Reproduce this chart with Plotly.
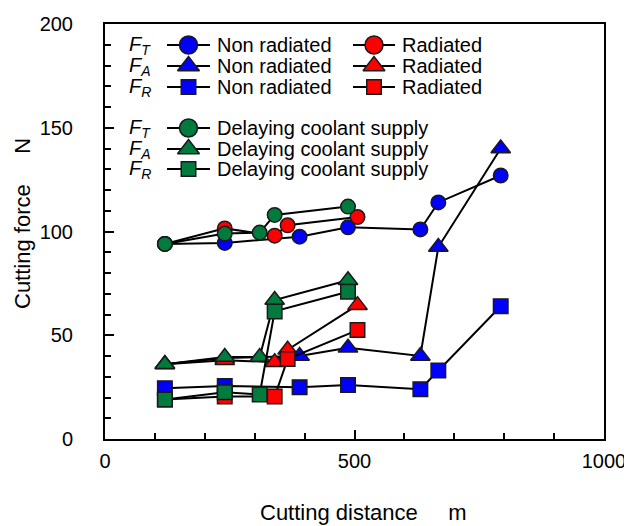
import plotly.graph_objects as go

# ---------------- data ----------------
dist_non = [120, 240, 390, 487, 632, 668, 793]
ft_non = [94, 94.5, 97.5, 102, 101, 114, 127]
fa_non = [36, 39, 40, 44, 40, 92.5, 140]
fr_non = [24.5, 25.5, 25, 26, 24, 33, 64]

dist_rad = [120, 240, 340, 366, 506]
ft_rad = [94, 101.5, 98, 103, 107]
fa_rad = [36, 38, 37, 43, 64.5]
fr_rad = [19, 20.5, 20.5, 38.5, 52.5]

dist_del = [120, 240, 310, 340, 487]
ft_del = [94, 99, 99.5, 108, 112]
fa_del = [36, 39.5, 39.5, 67, 76.5]
fr_del = [19, 22.5, 21.5, 61.5, 71]

x_ticks = [0, 500, 1000]
y_ticks = [0, 50, 100, 150, 200]

x_title = "Cutting distance\u00a0\u00a0\u00a0\u00a0 m"
y_title = "Cutting force\u00a0\u00a0\u00a0\u00a0 N"

legend_labels = [
    ("T", "Non radiated", "Radiated"),
    ("A", "Non radiated", "Radiated"),
    ("R", "Non radiated", "Radiated"),
    ("T", "Delaying coolant supply", None),
    ("A", "Delaying coolant supply", None),
    ("R", "Delaying coolant supply", None),
]

# ---------------- styles ----------------
BLUE = "#0000FF"
RED = "#FF0000"
GREEN = "#007A3D"
EDGE = "#1a1a1a"
FONT = "Liberation Sans, Arial, sans-serif"
SYM = {"T": "circle", "A": "triangle-up", "R": "square"}
DSIZE = {"T": 14.5, "A": 17, "R": 14.5}
LSIZE = {"T": 18, "A": 19, "R": 14.5}

# the page body adds an 8px offset; size the figure so the plot lands where the reference has it
OFF = 8
W, H = 632 - OFF, 526 - OFF
ML, MR, MT, MB = 105 - OFF, 28, 24 - OFF, 87
PW, PH = W - ML - MR, H - MT - MB

fig = go.Figure()

series = [
    (dist_non, ft_non, "T", BLUE), (dist_non, fa_non, "A", BLUE), (dist_non, fr_non, "R", BLUE),
    (dist_rad, ft_rad, "T", RED), (dist_rad, fa_rad, "A", RED), (dist_rad, fr_rad, "R", RED),
    (dist_del, ft_del, "T", GREEN), (dist_del, fa_del, "A", GREEN), (dist_del, fr_del, "R", GREEN),
]
for xs, ys, k, col in series:
    fig.add_trace(go.Scatter(
        x=xs, y=ys, mode="lines+markers",
        line=dict(color="black", width=2),
        marker=dict(symbol=SYM[k], size=DSIZE[k], color=col, opacity=1,
                    line=dict(color=EDGE, width=1.5)),
        showlegend=False, cliponaxis=False, hoverinfo="skip",
    ))

# ---------------- custom legend (overlay pixel axes) ----------------
row_y = [21, 42, 63, 104, 125, 145]
col_line = [(62, 105), (248, 290)]
col_text = [110, 295]
flabel_x = 22
annotations = []
for i, (sub, t1, t2) in enumerate(legend_labels):
    ry = row_y[i]
    color1 = BLUE if i < 3 else GREEN
    entries = [(0, color1, t1)]
    if t2:
        entries.append((1, RED, t2))
    for c, colr, txt in entries:
        x0, x1 = col_line[c]
        fig.add_trace(go.Scatter(
            x=[x0, (x0 + x1) / 2, x1], y=[ry, ry, ry], mode="lines+markers",
            line=dict(color="black", width=2),
            marker=dict(symbol=SYM[sub], size=[0, LSIZE[sub], 0], color=colr, opacity=1,
                        line=dict(color=EDGE, width=[0, 1.5, 0])),
            xaxis="x2", yaxis="y2", showlegend=False, hoverinfo="skip", cliponaxis=False,
        ))
        annotations.append(dict(x=col_text[c], y=ry, xref="x2", yref="y2", text=txt,
                                showarrow=False, xanchor="left", yanchor="middle",
                                font=dict(size=20, color="black", family=FONT)))
    annotations.append(dict(x=flabel_x, y=ry, xref="x2", yref="y2",
                            text="<i>F</i><sub><i>%s</i></sub>" % sub,
                            showarrow=False, xanchor="left", yanchor="middle",
                            font=dict(size=20, color="black", family=FONT)))

# axis titles (paper coordinates; screen pixel -> paper fraction)
def px_to_paper(sx, sy):
    return (sx - OFF - ML) / PW, 1 - (sy - OFF - MT) / PH

tx, ty = px_to_paper(363, 512)
annotations.append(dict(x=tx, y=ty, xref="paper", yref="paper",
                        text=x_title, showarrow=False, xanchor="center", yanchor="middle",
                        font=dict(size=22, color="black", family=FONT)))
tx, ty = px_to_paper(22, 224)
annotations.append(dict(x=tx, y=ty, xref="paper", yref="paper",
                        text=y_title, showarrow=False, xanchor="center", yanchor="middle",
                        textangle=-90, font=dict(size=22, color="black", family=FONT)))

axis_common = dict(
    ticks="inside", ticklen=9, tickwidth=1.5, tickcolor="black",
    showline=True, linewidth=2, linecolor="black", mirror=True,
    showgrid=False, zeroline=False, automargin=False,
    tickfont=dict(size=20, color="black", family=FONT),
)

fig.update_layout(
    width=W, height=H,
    margin=dict(l=ML, r=MR, t=MT, b=MB, autoexpand=False),
    paper_bgcolor="white", plot_bgcolor="white",
    font=dict(family=FONT, color="black"),
    showlegend=False,
    xaxis=dict(range=[0, 1000], tickvals=x_ticks, ticklabelstandoff=3,
               minor=dict(dtick=100, tick0=0, ticks="inside", ticklen=6, tickwidth=1.5,
                          tickcolor="black", showgrid=False),
               **axis_common),
    yaxis=dict(range=[0, 200], tickvals=y_ticks, ticklabelstandoff=26,
               minor=dict(dtick=10, tick0=0, ticks="inside", ticklen=6, tickwidth=1.5,
                          tickcolor="black", showgrid=False),
               **axis_common),
    xaxis2=dict(overlaying="x", anchor="y2", range=[0, PW], visible=False,
                fixedrange=True, automargin=False),
    yaxis2=dict(overlaying="y", anchor="x2", range=[PH, 0], visible=False,
                fixedrange=True, automargin=False),
    annotations=annotations,
)

fig.write_html("out.html")
